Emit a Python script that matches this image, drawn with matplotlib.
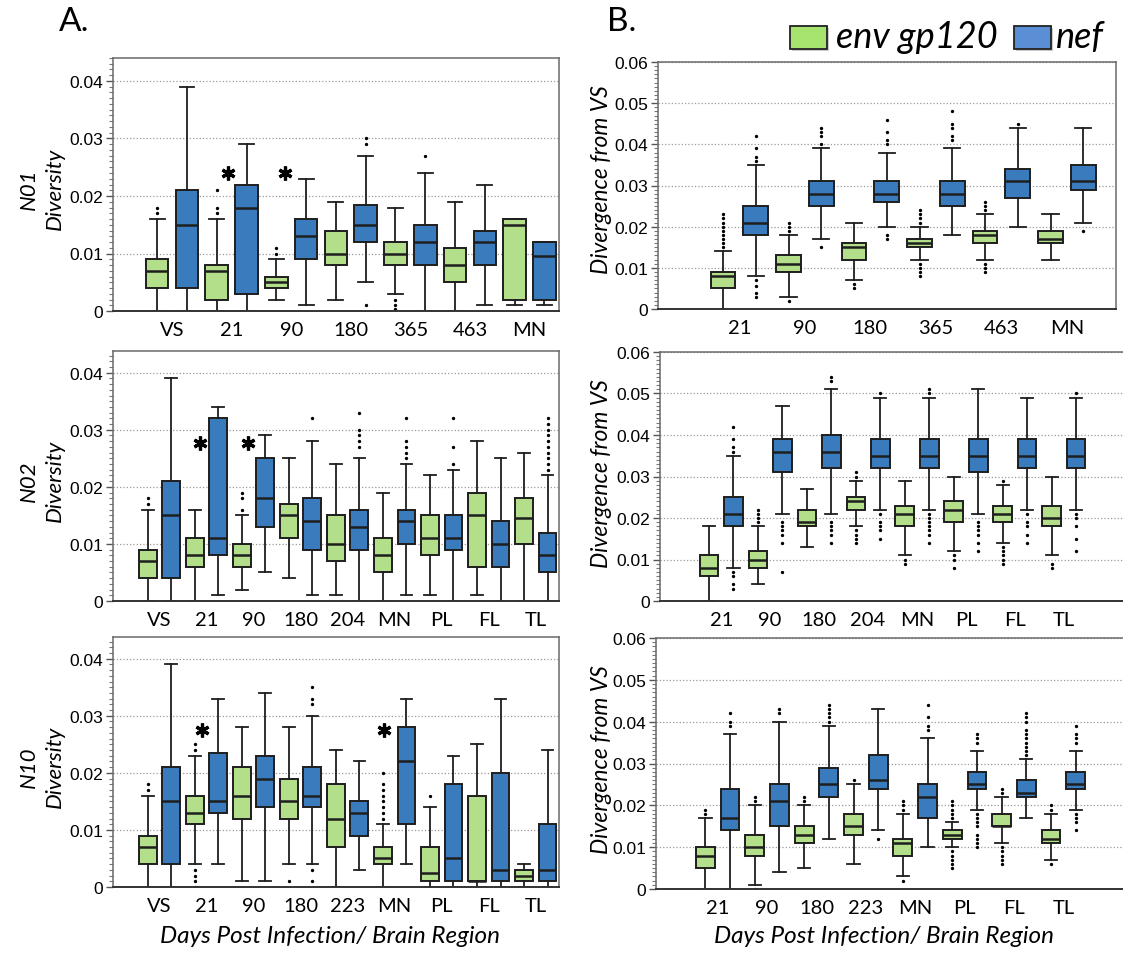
import numpy as np
import matplotlib
matplotlib.use("Agg")
import matplotlib.pyplot as plt
from matplotlib.ticker import MultipleLocator
from matplotlib.patches import Rectangle

# ---------------- data (whislo, q1, median, q3, whishi) ----------------
a1_cats = ['VS', '21', '90', '180', '365', '463', 'MN']
a1_env = [(0, .004, .007, .009, .016), (0, .002, .007, .008, .016), (.002, .004, .005, .006, .009),
          (.002, .008, .010, .014, .019), (.003, .008, .010, .012, .018), (0, .005, .008, .011, .019),
          (.001, .002, .015, .016, .016)]
a1_env_fl = [[.017, .018], [.017, .018, .021], [.010, .011], [], [.002, .001, .0003], [], []]
a1_nef = [(0, .004, .015, .021, .039), (0, .003, .018, .022, .029), (.001, .009, .013, .016, .023),
          (.005, .012, .015, .0184, .027), (0, .008, .012, .015, .024), (.001, .008, .012, .014, .022),
          (.001, .002, .0095, .012, .012)]
a1_nef_fl = [[], [], [], [.029, .030, .001], [.027], [], []]

a2_cats = ['VS', '21', '90', '180', '204', 'MN', 'PL', 'FL', 'TL']
a2_env = [(0, .004, .007, .009, .016), (0, .006, .008, .011, .016), (.002, .006, .008, .010, .015),
          (.004, .011, .015, .017, .025), (.001, .007, .010, .015, .024), (0, .005, .008, .011, .019),
          (.001, .008, .011, .015, .022), (.001, .006, .015, .019, .028), (0, .010, .0145, .018, .026)]
a2_env_fl = [[.017, .018], [], [.016, .018, .019], [], [], [], [], [], []]
a2_nef = [(0, .004, .015, .021, .039), (.001, .008, .011, .032, .034), (.005, .013, .018, .025, .029),
          (.001, .009, .014, .018, .028), (0, .009, .013, .016, .025), (.001, .010, .014, .016, .024),
          (0, .009, .011, .015, .023), (0, .006, .010, .014, .025), (0, .005, .008, .012, .022)]
a2_nef_fl = [[], [], [], [.032], [.027, .028, .029, .030, .033], [.025, .026, .027, .028, .032],
             [.024, .027, .032], [],
             [.023, .024, .025, .026, .027, .028, .029, .030, .031, .032]]

a3_cats = ['VS', '21', '90', '180', '223', 'MN', 'PL', 'FL', 'TL']
a3_env = [(0, .004, .007, .009, .016), (.004, .011, .013, .016, .023), (.001, .012, .016, .021, .028),
          (.004, .012, .015, .019, .028), (0, .007, .012, .018, .024), (0, .004, .005, .007, .011),
          (0, .001, .0025, .007, .014), (0, .001, .001, .016, .025), (0, .001, .002, .003, .004)]
a3_env_fl = [[.017, .018], [.024, .025, .003, .002, .001, 0], [], [.001], [],
             [.012, .013, .014, .015, .016, .017, .018, .020], [.016], [], []]
a3_nef = [(0, .004, .015, .021, .039), (.004, .013, .015, .0235, .033), (.001, .014, .019, .023, .034),
          (.004, .014, .016, .021, .030), (.003, .009, .013, .015, .022), (.004, .011, .022, .028, .033),
          (0, .001, .005, .018, .023), (0, .001, .003, .020, .033), (0, .001, .003, .011, .024)]
a3_nef_fl = [[], [], [], [.032, .033, .035, .003, .001], [], [], [], [], []]

b1_cats = ['21', '90', '180', '365', '463', 'MN']
b1_env = [(0, .005, .008, .009, .014), (.003, .009, .011, .013, .018), (.007, .012, .015, .016, .021),
          (.012, .015, .016, .017, .020), (.012, .016, .018, .019, .023), (.012, .016, .017, .019, .023)]
b1_env_fl = [[.015, .016, .017, .018, .019, .020, .021, .022, .023], [.019, .020, .021, .002], [.006, .005],
             [.021, .022, .023, .024, .011, .010, .009, .008], [.024, .025, .026, .011, .010, .009], []]
b1_nef = [(.008, .018, .021, .025, .035), (.017, .025, .028, .031, .039), (.020, .026, .028, .031, .038),
          (.018, .025, .028, .031, .039), (.020, .027, .031, .034, .044), (.021, .029, .031, .035, .044)]
b1_nef_fl = [[.036, .037, .039, .042, .007, .0057, .004, .003], [.040, .042, .043, .044, .015],
             [.040, .041, .043, .046, .018, .017], [.041, .042, .044, .045, .048], [.045], [.019]]

b2_cats = ['21', '90', '180', '204', 'MN', 'PL', 'FL', 'TL']
b2_env = [(0, .006, .008, .011, .018), (.004, .008, .010, .012, .018), (.013, .018, .019, .022, .027),
          (.018, .022, .024, .025, .029), (.011, .018, .021, .023, .029), (.012, .019, .022, .024, .030),
          (.014, .019, .021, .023, .028), (.011, .018, .020, .023, .030)]
b2_env_fl = [[], [.019, .020, .021, .022], [], [.030, .031, .017, .016, .015, .014], [.010, .009],
             [.011, .010, .008], [.029, .013, .012, .011, .010, .009], [.009, .008]]
b2_nef = [(.008, .018, .021, .025, .035), (.021, .031, .036, .039, .047), (.021, .032, .036, .040, .051),
          (.022, .032, .035, .039, .049), (.022, .032, .035, .039, .049), (.021, .031, .035, .039, .051),
          (.022, .032, .035, .039, .049), (.022, .032, .035, .039, .049)]
b2_nef_fl = [[.036, .037, .039, .042, .007, .006, .004, .003], [.019, .018, .017, .016, .014, .007],
             [.053, .054, .019, .018, .017, .016, .014], [.050, .021, .019, .018, .017, .015],
             [.050, .051, .021, .020, .019, .018, .017, .016, .014], [.019, .018, .017, .016, .014, .012],
             [.021, .019, .018, .016, .014], [.050, .021, .020, .018, .015, .012]]

b3_cats = ['21', '90', '180', '223', 'MN', 'PL', 'FL', 'TL']
b3_env = [(0, .005, .008, .010, .017), (.001, .008, .010, .013, .020), (.005, .011, .013, .015, .020),
          (.006, .013, .015, .018, .025), (.003, .008, .011, .012, .018), (.010, .012, .013, .014, .016),
          (.011, .015, .015, .018, .022), (.007, .011, .012, .014, .018)]
b3_env_fl = [[.018, .019], [.021, .022, 0], [.021, .022], [.026], [.019, .020, .021, .002],
             [.017, .018, .019, .020, .021, .009, .008, .007, .006, .005],
             [.023, .024, .010, .009, .008, .007, .006], [.019, .020, .006]]
b3_nef = [(0, .014, .017, .024, .037), (.004, .015, .021, .025, .040), (.012, .022, .025, .029, .039),
          (.014, .024, .026, .032, .043), (.010, .017, .022, .025, .036), (.019, .024, .025, .028, .033),
          (.017, .022, .023, .026, .031), (.019, .024, .025, .028, .033)]
b3_nef_fl = [[.039, .040, .042], [.042, .043], [.040, .041, .042, .043, .044], [.012],
             [.038, .039, .041, .044],
             [.035, .036, .037, .018, .017, .016, .015, .013, .012, .011, .010],
             [.032, .033, .034, .035, .036, .037, .038, .040, .041, .042],
             [.035, .036, .037, .039, .018, .017, .016, .014]]

# significance stars: category index and y value
a1_star_idx, a1_star_y = [1, 2], [.024, .024]
a2_star_idx, a2_star_y = [1, 2], [.0277, .0277]
a3_star_idx, a3_star_y = [1, 5], [.0275, .0275]

# ---------------- style ----------------
GREEN = '#b3df8a'
BLUE = '#3a7bbd'
EDGE = '#1e1e1e'
W, H = 1123, 954
plt.rcParams['font.family'] = ['Lato', 'DejaVu Sans']

fig = plt.figure(figsize=(W / 100, H / 100), dpi=100)


def px_axes(l, t, r, b):
    return fig.add_axes([l / W, 1 - b / H, (r - l) / W, (b - t) / H])


def to_stats(vals, fls):
    return [dict(whislo=v[0], q1=v[1], med=v[2], q3=v[3], whishi=v[4], fliers=f)
            for v, f in zip(vals, fls)]


def panel(ax, cats, env, env_fl, nef, nef_fl, ymax, ytop, xlim,
          star_idx=(), star_y=(), star_dx=()):
    n = len(cats)
    pos = np.arange(n) * 2 + 1
    for vals, fls, p, col in [(env, env_fl, pos, GREEN), (nef, nef_fl, pos + 1, BLUE)]:
        ax.bxp(to_stats(vals, fls), positions=p, widths=0.76, capwidths=0.5,
               patch_artist=True, manage_ticks=False,
               boxprops=dict(facecolor=col, edgecolor=EDGE, linewidth=1.4),
               medianprops=dict(color=EDGE, linewidth=1.8),
               whiskerprops=dict(color=EDGE, linewidth=1.3),
               capprops=dict(color=EDGE, linewidth=1.3),
               flierprops=dict(marker='o', markersize=1.4, markerfacecolor='black',
                               markeredgecolor='black'))
    for i, y, dx in zip(star_idx, star_y, star_dx):
        ax.plot(pos[i] + dx, y, marker=(6, 2, 0), ms=10, mew=2.3, color='black')
    ax.set_xlim(*xlim)
    ax.set_ylim(0, ytop)
    yt = np.arange(0, ymax + 1e-9, 0.01)
    ax.set_yticks(yt)
    ax.set_yticklabels(['0'] + ['%.2f' % v for v in yt[1:]], family='Liberation Sans', fontsize=12.5)
    ax.yaxis.set_minor_locator(MultipleLocator(0.001))
    ax.tick_params(axis='y', which='major', length=5, width=1, color='#555', pad=2)
    ax.tick_params(axis='y', which='minor', length=3, width=0.8, color='#777')
    ax.set_xticks(pos + 0.5)
    ax.set_xticklabels(cats, fontsize=14.5)
    ax.tick_params(axis='x', length=0, pad=7)
    ax.yaxis.grid(True, which='major', linestyle=':', color='#9a9a9a', linewidth=0.9)
    ax.set_axisbelow(True)
    for s in ax.spines.values():
        s.set_color('#6a6a6a')
        s.set_linewidth(1.1)
    ax.spines['bottom'].set_color('#333')
    ax.spines['bottom'].set_linewidth(1.4)


a_axes = [px_axes(112.5, 59, 559.3, 312), px_axes(112.5, 352, 559.3, 602), px_axes(112.5, 638, 559.3, 888)]
b_axes = [px_axes(657.5, 63, 1116, 310), px_axes(660, 353, 1130, 602), px_axes(656, 639, 1130, 890)]

panel(a_axes[0], a1_cats, a1_env, a1_env_fl, a1_nef, a1_nef_fl, 0.04, 0.044, (-0.5, 14.5),
      a1_star_idx, a1_star_y, [0.38, 0.3])
panel(a_axes[1], a2_cats, a2_env, a2_env_fl, a2_nef, a2_nef_fl, 0.04, 0.0438, (-0.5, 18.5),
      a2_star_idx, a2_star_y, [0.2, 0.26])
panel(a_axes[2], a3_cats, a3_env, a3_env_fl, a3_nef, a3_nef_fl, 0.04, 0.0438, (-0.5, 18.5),
      a3_star_idx, a3_star_y, [0.32, 0.04])

panel(b_axes[0], b1_cats, b1_env, b1_env_fl, b1_nef, b1_nef_fl, 0.06, 0.06, (-1.0, 13.0))
panel(b_axes[1], b2_cats, b2_env, b2_env_fl, b2_nef, b2_nef_fl, 0.06, 0.06, (-1.0, 18.2))
panel(b_axes[2], b3_cats, b3_env, b3_env_fl, b3_nef, b3_nef_fl, 0.06, 0.06, (-1.0, 18.2))

# y labels
for name, yc in zip(['N01', 'N02', 'N10'], [189, 481, 767]):
    fig.text(29 / W, 1 - yc / H, name, rotation=90, ha='center', va='center', fontsize=16, style='italic')
    fig.text(55 / W, 1 - yc / H, 'Diversity', rotation=90, ha='center', va='center', fontsize=16,
             style='italic')
for yc in [180, 474, 760]:
    fig.text(601 / W, 1 - yc / H, 'Divergence from VS', rotation=90, ha='center', va='center',
             fontsize=16.5, style='italic')

for xc in [330, 884]:
    fig.text(xc / W, 1 - 937 / H, 'Days Post Infection/ Brain Region', ha='center', va='center',
             fontsize=17.5, style='italic')

fig.text(59 / W, 1 - 22 / H, 'A.', ha='left', va='center', fontsize=24)
fig.text(607 / W, 1 - 22 / H, 'B.', ha='left', va='center', fontsize=24)

# legend
for x0, col, lab, tx in [(790, '#a6e36f', 'env gp120', 836), (1014, '#5a8fd6', 'nef', 1056)]:
    fig.patches.append(Rectangle(((x0 + 2) / W, 1 - 52 / H), 37 / W, 23 / H, transform=fig.transFigure,
                                 facecolor='#999', edgecolor='none', alpha=0.5))
    fig.patches.append(Rectangle((x0 / W, 1 - 50 / H), 37 / W, 23 / H, transform=fig.transFigure,
                                 facecolor=col, edgecolor='#222', linewidth=1.3))
    fig.text(tx / W, 1 - 38 / H, lab, ha='left', va='center', fontsize=26, style='italic')

fig.savefig('out.png', dpi=100)
